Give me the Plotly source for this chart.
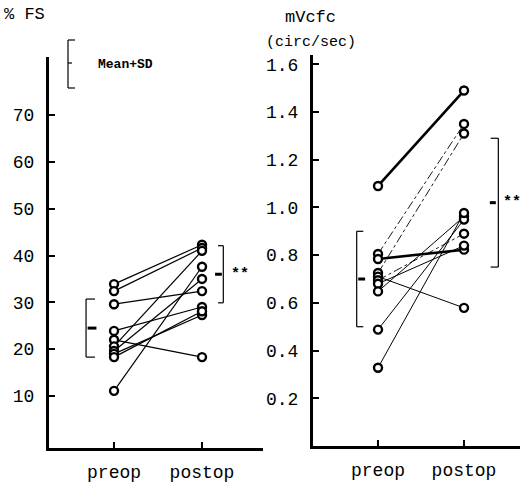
import plotly.graph_objects as go

# ---------------- data ----------------
categories = ["preop", "postop"]

fs_pre = [33.9, 32.4, 29.6, 23.9, 22.0, 20.6, 19.6, 19.0, 18.3, 11.1]
fs_post = [42.3, 41.6, 32.4, 29.0, 18.3, 41.0, 35.0, 27.3, 28.1, 37.6]
fs_mean = [24.5, 36.0]
fs_sd = [6.2, 6.1]
fs_ticks = [10, 20, 30, 40, 50, 60, 70]

vcf_pre = [1.09, 0.805, 0.784, 0.725, 0.71, 0.695, 0.68, 0.648, 0.488, 0.328]
vcf_post = [1.49, 1.35, 0.823, 1.31, 0.579, 0.89, 0.84, 0.962, 0.949, 0.977]
vcf_styles = ["thick", "dashdot", "thick", "dashdot", "thin", "dashdot", "thin", "thin", "thin", "thin"]
vcf_mean = [0.70, 1.02]
vcf_sd = [0.20, 0.27]
vcf_ticks = [0.2, 0.4, 0.6, 0.8, 1.0, 1.2, 1.4, 1.6]

FONT = "Liberation Mono"
xpos = [1, 2]

fig = go.Figure()

style_map = {"thick": dict(width=2.6, dash="solid"),
             "thin": dict(width=1.0, dash="solid"),
             "dashdot": dict(width=0.9, dash="dashdot")}

for a, b in zip(fs_pre, fs_post):
    fig.add_trace(go.Scatter(x=xpos, y=[a, b], mode="lines", xaxis="x", yaxis="y",
                             line=dict(color="black", width=1.2), showlegend=False, hoverinfo="skip"))
for a, b, s in zip(vcf_pre, vcf_post, vcf_styles):
    fig.add_trace(go.Scatter(x=xpos, y=[a, b], mode="lines", xaxis="x2", yaxis="y2",
                             line=dict(color="black", **style_map[s]), showlegend=False, hoverinfo="skip"))

mk = dict(symbol="circle", size=8, color="white", line=dict(color="black", width=2.4))
fig.add_trace(go.Scatter(x=[1] * len(fs_pre) + [2] * len(fs_post), y=fs_pre + fs_post, mode="markers",
                         xaxis="x", yaxis="y", marker=mk, showlegend=False, cliponaxis=False))
fig.add_trace(go.Scatter(x=[1] * len(vcf_pre) + [2] * len(vcf_post), y=vcf_pre + vcf_post, mode="markers",
                         xaxis="x2", yaxis="y2", marker=mk, showlegend=False, cliponaxis=False))

shapes = []
annots = []


def bracket(xr, yr, xv, xh, xm0, xm1, mean, sd, star_x=None):
    lo, hi = mean - sd, mean + sd
    ln = dict(color="black", width=1.2)
    shapes.append(dict(type="line", xref=xr, yref=yr, x0=xv, x1=xv, y0=lo, y1=hi, line=ln))
    shapes.append(dict(type="line", xref=xr, yref=yr, x0=xv, x1=xh, y0=lo, y1=lo, line=ln))
    shapes.append(dict(type="line", xref=xr, yref=yr, x0=xv, x1=xh, y0=hi, y1=hi, line=ln))
    shapes.append(dict(type="line", xref=xr, yref=yr, x0=xm0, x1=xm1, y0=mean, y1=mean,
                       line=dict(color="black", width=3)))
    if star_x is not None:
        annots.append(dict(x=star_x, y=mean, xref=xr, yref=yr, text="<b>**</b>", showarrow=False,
                           yanchor="middle", font=dict(family=FONT, size=15, color="black")))


bracket("x", "y", 0.682, 0.784, 0.70, 0.80, fs_mean[0], fs_sd[0])
bracket("x", "y", 2.242, 2.182, 2.148, 2.225, fs_mean[1], fs_sd[1], star_x=2.43)
bracket("x2", "y2", 0.752, 0.829, 0.77, 0.85, vcf_mean[0], vcf_sd[0])
bracket("x2", "y2", 2.399, 2.31, 2.30, 2.37, vcf_mean[1], vcf_sd[1], star_x=2.56)

# Mean+SD key
shapes.append(dict(type="line", xref="paper", yref="paper", x0=68 / 521, x1=68 / 521,
                   y0=1 - 88 / 484, y1=1 - 40 / 484, line=dict(color="black", width=1.2)))
for yy in (40, 88):
    shapes.append(dict(type="line", xref="paper", yref="paper", x0=68 / 521, x1=75 / 521,
                       y0=1 - yy / 484, y1=1 - yy / 484, line=dict(color="black", width=1.2)))
shapes.append(dict(type="line", xref="paper", yref="paper", x0=68 / 521, x1=72 / 521,
                   y0=1 - 63 / 484, y1=1 - 63 / 484, line=dict(color="black", width=1.2)))
annots.append(dict(x=96 / 521, y=1 - 64 / 484, xref="paper", yref="paper", text="<b>Mean+SD</b>",
                   showarrow=False, xanchor="left", yanchor="middle",
                   font=dict(family=FONT, size=13, color="black")))

annots.append(dict(x=2 / 521, y=1 - 14 / 484, xref="paper", yref="paper", text="% FS",
                   showarrow=False, xanchor="left", yanchor="middle",
                   font=dict(family=FONT, size=17, color="black")))
annots.append(dict(x=310 / 521, y=1 - 18 / 484, xref="paper", yref="paper", text="mVcfc",
                   showarrow=False, xanchor="center", yanchor="middle",
                   font=dict(family=FONT, size=17, color="black")))
annots.append(dict(x=311 / 521, y=1 - 43 / 484, xref="paper", yref="paper", text="(circ/sec)",
                   showarrow=False, xanchor="center", yanchor="middle",
                   font=dict(family=FONT, size=15, color="black")))

axis_common = dict(showgrid=False, zeroline=False, showline=True, linecolor="black", linewidth=3,
                   ticks="inside", tickcolor="black", tickwidth=1.5, ticklen=6,
                   tickfont=dict(family=FONT, size=18, color="black"), fixedrange=True)

fig.update_layout(
    width=521, height=484, margin=dict(l=0, r=0, t=0, b=0),
    paper_bgcolor="white", plot_bgcolor="white",
    xaxis=dict(domain=[49 / 521, 263 / 521], range=[0.261, 2.693], tickvals=xpos, ticktext=categories,
               anchor="y", ticklabelstandoff=5, **axis_common),
    yaxis=dict(domain=[1 - 448 / 484, 1 - 57 / 484], range=[-1.11, 82.4], tickvals=fs_ticks,
               anchor="x", ticklabelstandoff=8, **axis_common),
    xaxis2=dict(domain=[313 / 521, 520 / 521], range=[0.244, 2.651], tickvals=xpos, ticktext=categories,
                anchor="y2", ticklabelstandoff=5, **axis_common),
    yaxis2=dict(domain=[1 - 446 / 484, 1 - 55 / 484], range=[0.0, 1.639], tickvals=vcf_ticks,
                tickformat=".1f", anchor="x2", ticklabelstandoff=8, **axis_common),
    shapes=shapes, annotations=annots,
)

fig.write_html("out.html")
